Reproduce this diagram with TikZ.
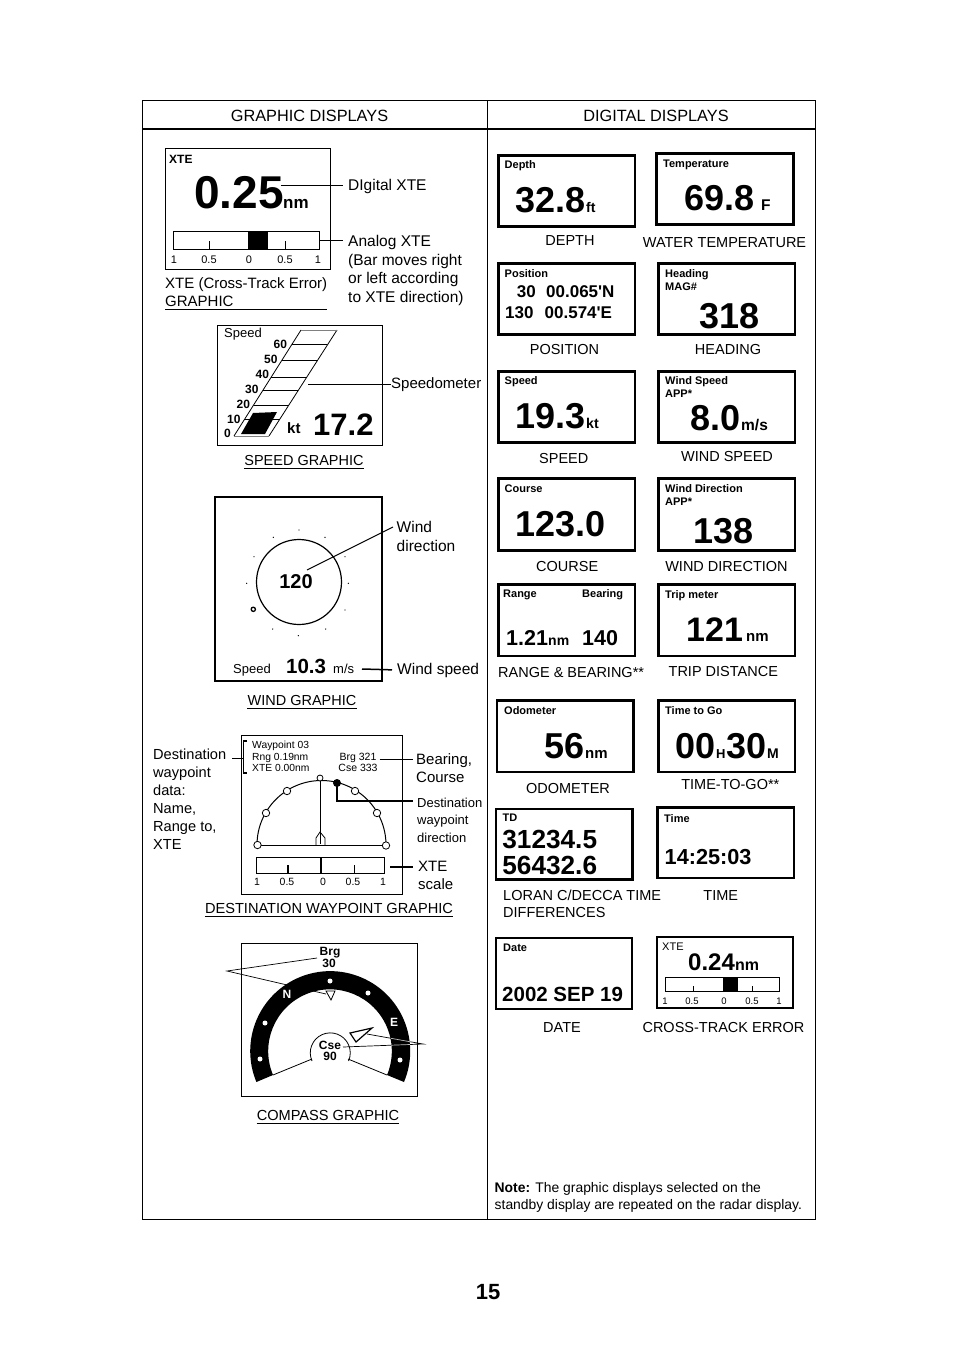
\documentclass[tikz,border=0pt]{standalone}
\usepackage{fontspec}
\setmainfont{Liberation Sans}
\newfontfamily\posfont{Liberation Sans}
\usetikzlibrary{positioning, fit}
\begin{document}
\begin{tikzpicture}[
    x=1pt, y=1pt, yscale=-1,
    framebox/.style={draw, line width=1pt, inner sep=0pt},
    thinbox/.style={draw, line width=1pt, inner sep=0pt},
    dispbox/.style={draw, line width=2.5pt, inner sep=0pt},
    txt/.style={inner sep=0pt, anchor=base west, font=\fontsize{#1}{#1}\selectfont},
    btxt/.style={inner sep=0pt, anchor=base west, font=\fontsize{#1}{#1}\selectfont\bfseries},
    ctxt/.style={inner sep=0pt, anchor=base, font=\fontsize{#1}{#1}\selectfont},
    cbtxt/.style={inner sep=0pt, anchor=base, font=\fontsize{#1}{#1}\selectfont\bfseries},
    wrap/.style={inner sep=0pt, anchor=north west, align=left, font=\fontsize{15}{18.3}\selectfont},
    leader/.style={line width=1pt},
    hleader/.style={line width=1.5pt},
    rulerline/.style={line width=1.2pt}
]
\useasboundingbox (0,0) rectangle (954,1351);

% outer table
\node[framebox, fit={(142.7,100.5) (815.5,1219.3)}] (frame) {};
\draw[line width=1.5pt] (frame.west |- 0,129) -- (frame.east |- 0,129);
\draw[line width=1pt] (487.5,100.5) -- (487.5,1219.3);
\node[ctxt=16.3] (headleft) at (309.5,121.5) {GRAPHIC DISPLAYS};
\node[ctxt=16.3] (headright) at (656,121.5) {DIGITAL DISPLAYS};

% XTE graphic
\node[thinbox, fit={(165,149) (330,269)}] (xtepanel) {};
\node[btxt=12] (xtetitle) at (169,164) {XTE};
\node[btxt=46] (xteval) at (194,208) {0.25};
\node[btxt=17] (xteunit) at (283,208) {nm};
\node[thinbox, fit={(173,231) (319,249)}] (xtebar) {};
\fill (248,231) rectangle (268,249);
\draw[line width=1pt] (209,241) -- (209,249);
\draw[line width=1pt] (285,241) -- (285,249);
\node[ctxt=11] (xtea) at (174,263) {1};
\node[ctxt=11] (xteb) at (209,263) {0.5};
\node[ctxt=11] (xtec) at (249,263) {0};
\node[ctxt=11] (xted) at (285,263) {0.5};
\node[ctxt=11] (xtee) at (318,263) {1};
\node[txt=15.5] (dxte) at (348,190) {DIgital XTE};
\node[wrap, font=\fontsize{15.5}{18.7}\selectfont] (axte) at (348,235) {Analog XTE\\(Bar moves right\\or left according\\to XTE direction)};
\node[wrap] (xtecap) at (165,277) {XTE (Cross-Track Error)\\GRAPHIC};
\coordinate (axteend) at (343,240);
\draw[leader, shorten <=-3pt, shorten >=5pt] (xteval.east |- dxte.west) -- (dxte.west);
\draw[leader] (xtebar.east) -- (axteend);
\draw[rulerline] ([yshift=3pt]xtecap.south west) -- ([yshift=3pt]xtecap.south east);

% speed graphic
\node[thinbox, fit={(217,325) (382,445)}] (speedpanel) {};
\node[txt=13] (speedtitle) at (224,337) {Speed};
\fill (253,413) -- (277,412) -- (265,434) -- (241,434) -- cycle;
\draw[line width=0.8pt] (234,436) -- (301,330);
\draw[line width=0.8pt] (269,436) -- (337,330);
\draw[line width=1pt, gray] (301,330) -- (337,330);
\draw[line width=1pt, gray] (234,436) -- (269,436);
\draw[line width=0.8pt] (292.1,344) -- +(35,0);
\draw[line width=0.8pt] (282,360) -- +(35,0);
\draw[line width=0.8pt] (271.3,377) -- +(35,0);
\draw[line width=0.8pt] (263.1,390) -- +(35,0);
\draw[line width=0.8pt] (253.6,405) -- +(35,0);
\draw[line width=0.8pt] (244.7,419) -- +(35,0);
\node[btxt=12] (spa) at (273.5,348) {60};
\node[btxt=12] (spb) at (264,363.5) {50};
\node[btxt=12] (spc) at (255.5,378) {40};
\node[btxt=12] (spd) at (245,393) {30};
\node[btxt=12] (spe) at (236.5,408) {20};
\node[btxt=12] (spf) at (227,423) {10};
\node[btxt=12] (spg) at (224,437) {0};
\node[btxt=15] (speedunit) at (287,433) {kt};
\node[btxt=31] (speedval) at (313,435) {17.2};
\node[txt=15] (speedo) at (391,388) {Speedometer};
\coordinate (speedoend) at (308,383);
\draw[leader] (speedoend |- speedo.west) -- (speedo.west);
\node[ctxt=14.5] (speedcap) at (304,465) {SPEED GRAPHIC};
\draw[rulerline] ([yshift=3pt]speedcap.south west) -- ([yshift=3pt]speedcap.south east);

% wind graphic
\node[framebox, line width=2pt, fit={(215,497) (382,681)}] (windpanel) {};
\draw[line width=1.2pt] (299,582) circle (42.5);
\fill (273.3,537.3) circle (0.7) (325,537.3) circle (0.7) (254,556.7) circle (0.7)
    (345,556.7) circle (0.7) (246.7,583.3) circle (0.7) (348.3,583.3) circle (0.7)
    (345,610) circle (0.7) (272.7,629) circle (0.7) (325.7,629) circle (0.7)
    (299,530) circle (0.7) (298.3,635.7) circle (0.7);
\draw[line width=1.3pt] (253.3,609.3) circle (2.1);
\node[cbtxt=20] (windval) at (296,588) {120};
\node[wrap, font=\fontsize{15.5}{19}\selectfont] (winddir) at (396.5,521) {Wind\\direction};
\coordinate (winddirend) at (307,570);
\coordinate (winddirtip) at (393,527);
\draw[leader] (winddirend) -- (winddirtip);
\node[txt=13] (windspd) at (233,673) {Speed};
\node[btxt=20.5] (windnum) at (286,673) {10.3};
\node[txt=13] (windunit) at (333,673) {m/s};
\node[txt=15.5] (windlab) at (397,674) {Wind speed};
\coordinate (windstart) at (362,669);
\draw[hleader, shorten >=5pt] (windstart) -- (windlab.west);
\node[ctxt=14.5] (windcap) at (302,705) {WIND GRAPHIC};
\draw[rulerline] ([yshift=3pt]windcap.south west) -- ([yshift=3pt]windcap.south east);

% destination waypoint graphic
\node[thinbox, fit={(241,735) (402,894)}] (wptpanel) {};
\draw[line width=1.2pt] (247,741) -- (243.5,741) -- (243.5,773) -- (247,773);
\node[txt=10.3] (wpta) at (252,748.5) {Waypoint 03};
\node[txt=10.3] (wptb) at (252,760) {Rng 0.19nm};
\node[txt=10.3] (wptc) at (252,771.5) {XTE 0.00nm};
\node[ctxt=10.5] (wptd) at (358,760) {Brg 321};
\node[ctxt=10.5] (wpte) at (358,771.5) {Cse 333};
\node[wrap, font=\fontsize{14.6}{18}\selectfont] (wptdata) at (153,749) {Destination\\waypoint\\data:\\Name,\\Range to,\\XTE};
\coordinate (brackend) at (243.5,758);
\draw[leader] (232,758) -- (brackend);
\node[wrap, font=\fontsize{15}{18}\selectfont] (wptbrg) at (416,753) {Bearing,\\Course};
\coordinate (brgend) at (413,759);
\draw[leader] (wptd.east |- brgend) ++(3,0) -- (brgend);
\node[wrap, font=\fontsize{13}{17.5}\selectfont] (wptdir) at (417,797.5) {Destination\\waypoint\\direction};
\draw[line width=1pt] (257,845) arc[start angle=180, end angle=360, radius=64.5];
\draw[line width=1pt] (257,845) -- (386,845);
\draw[line width=0.8pt] (320,778) -- (320,844);
\draw[line width=0.8pt] (316,845) -- (316,838) -- (320,832) -- (325,838) -- (325,845);
\draw[line width=0.8pt, fill=white] (320,778) circle (3);
\draw[line width=0.8pt, fill=white] (287,791) circle (3.7);
\draw[line width=0.8pt, fill=white] (266,813) circle (3.7);
\draw[line width=0.8pt, fill=white] (355,791) circle (3.7);
\draw[line width=0.8pt, fill=white] (377,813) circle (3.7);
\draw[line width=0.8pt, fill=white] (257.5,845) circle (3.7);
\draw[line width=0.8pt, fill=white] (386,845.5) circle (3.7);
\fill (337,783) coordinate (wptdot) circle (4);
\coordinate (wptdirend) at (413,801);
\draw[hleader] (wptdot) |- (wptdirend);
\node[thinbox, fit={(256,857) (384,873)}] (wptbar) {};
\draw[line width=1.3pt] (288,865) -- (288,873);
\draw[line width=1.8pt] (321,858) -- (321,873);
\draw[line width=0.8pt] (354,865) -- (354,873);
\node[ctxt=10.5] (wbara) at (257,885) {1};
\node[ctxt=10.5] (wbarb) at (287,885) {0.5};
\node[ctxt=10.5] (wbarc) at (323,885) {0};
\node[ctxt=10.5] (wbard) at (353,885) {0.5};
\node[ctxt=10.5] (wbare) at (383,885) {1};
\node[wrap, font=\fontsize{15}{18}\selectfont] (wptscale) at (418,860.5) {XTE\\scale};
\coordinate (scalestart) at (390,867);
\coordinate (scaleend) at (413,867);
\draw[hleader] (scalestart) -- (scaleend);
\node[ctxt=14.6] (wptcap) at (329,913) {DESTINATION WAYPOINT GRAPHIC};
\draw[rulerline] ([yshift=3pt]wptcap.south west) -- ([yshift=3pt]wptcap.south east);

% compass graphic
\node[thinbox, fit={(241,943) (417,1096)}] (comppanel) {};
\fill (404,1082) arc[start angle=22.7, end angle=-202.7, radius=80] -- (273,1075)
    arc[start angle=-202.7, end angle=22.7, radius=61.8] -- cycle;
\fill[white] (330,981) circle (2.5) (368,993) circle (2.5) (265,1023) circle (2.5)
    (260,1059) circle (2.5) (400,1060) circle (2.5);
\node[cbtxt=12, white] (compn) at (287,998.5) {N};
\node[cbtxt=12, white] (compe) at (394,1026.5) {E};
\draw[line width=0.8pt] (273,1075) -- (312,1059);
\draw[line width=0.8pt] (387,1075) -- (348,1059);
\draw[line width=0.8pt] (312,1061) arc[start angle=-204, end angle=24, radius=20];
\node[cbtxt=12] (compbrg) at (330,955) {Brg};
\node[cbtxt=12] (compbrgv) at (329,967) {30};
\node[cbtxt=12] (compcse) at (330,1049) {Cse};
\node[cbtxt=12] (compcsev) at (330,1060) {90};
\draw[line width=0.8pt] (326,991) -- (335,991) -- (331,1000) -- cycle;
\draw[line width=1.2pt] (350,1033) -- (372,1028) -- (356,1042) -- cycle;
\coordinate (forkl) at (227,971);
\coordinate (forkr) at (423,1044);
\coordinate (tipa) at (317,958);
\coordinate (tipb) at (326,994);
\coordinate (tipc) at (367,1034);
\coordinate (tipd) at (343,1047);
\draw[line width=0.7pt] (tipa) -- (forkl) -- (tipb);
\draw[line width=0.7pt] (tipc) -- (forkr) -- (tipd);
\draw[line width=0.7pt, lightgray] (411,1041.9) -- (391,1038.3);
\draw[line width=0.7pt, lightgray] (410,1044.5) -- (391,1045.2);
\node[ctxt=14.6] (compcap) at (328,1120) {COMPASS GRAPHIC};
\draw[rulerline] ([yshift=3pt]compcap.south west) -- ([yshift=3pt]compcap.south east);

% digital displays, left and right column
\node[dispbox, fit={(498.5,155.5) (634.8,226.5)}] (depth) {};
\node[btxt=11] (deptht) at (504.5,168.5) {Depth};
\node[btxt=36] (depthv) at (515,212.5) {32.8};
\node[btxt=14] (depthu) at (586,212) {ft};
\node[ctxt=14.5] (depthc) at (570,245) {DEPTH};

\node[dispbox, fit={(656.5,153.5) (793.5,224.5)}] (temp) {};
\node[btxt=11] (tempt) at (663,167.5) {Temperature};
\node[btxt=36] (tempv) at (684,211) {69.8};
\node[btxt=15.5] (tempu) at (761,210.7) {F};
\node[ctxt=14.5] (tempc) at (724.5,247) {WATER TEMPERATURE};

\node[dispbox, fit={(498.5,263.5) (634.8,334.5)}] (pos) {};
\node[btxt=11] (post) at (504.5,277.5) {Position};
\node[btxt=17] (posa) at (516.7,297.7) {30};
\node[btxt=17] (posb) at (546,297.7) {{\posfont\bfseries 00.065'N}};
\node[btxt=17] (posc) at (505,318) {130};
\node[btxt=17] (posd) at (544.5,318) {{\posfont\bfseries 00.574'E}};
\node[ctxt=14.5] (posn) at (564.5,354) {POSITION};

\node[dispbox, fit={(658.5,263.5) (794.8,334.5)}] (head) {};
\node[btxt=11] (headt) at (665,277.5) {Heading};
\node[btxt=11] (headm) at (665,290) {MAG\#};
\node[btxt=36] (headv) at (699,328.5) {318};
\node[ctxt=14.5] (headc) at (728,354) {HEADING};

\node[dispbox, fit={(498.5,371.5) (634.8,442.5)}] (spd) {};
\node[btxt=11] (spdt) at (504.5,384) {Speed};
\node[btxt=36] (spdv) at (515,428.3) {19.3};
\node[btxt=14.2] (spdu) at (586,428.3) {kt};
\node[ctxt=14.5] (spdc) at (563.8,463) {SPEED};

\node[dispbox, fit={(658.5,371.5) (794.8,442.5)}] (wspd) {};
\node[btxt=11] (wspdt) at (665,384) {Wind Speed};
\node[btxt=11] (wspda) at (665,397.3) {APP*};
\node[btxt=36] (wspdv) at (690,430.7) {8.0};
\node[btxt=15.5] (wspdu) at (741,430.7) {m/s};
\node[ctxt=14.5] (wspdc) at (727,461) {WIND SPEED};

\node[dispbox, fit={(498.5,478.5) (634.8,550.5)}] (course) {};
\node[btxt=11] (courset) at (504.5,492) {Course};
\node[btxt=36] (coursev) at (515,536.5) {123.0};
\node[ctxt=14.5] (coursec) at (567.2,571) {COURSE};

\node[dispbox, fit={(658.5,478.5) (794.8,550.5)}] (wdir) {};
\node[btxt=11] (wdirt) at (665,492) {Wind Direction};
\node[btxt=11] (wdira) at (665,505) {APP*};
\node[btxt=36] (wdirv) at (693,543.5) {138};
\node[ctxt=14.5] (wdirc) at (726.5,571) {WIND DIRECTION};

\node[dispbox, fit={(498.5,584.5) (634.8,656)}] (range) {};
\node[btxt=11] (ranget) at (503,597) {Range};
\node[btxt=11] (rangeb) at (582,597) {Bearing};
\node[btxt=21.5] (rangev) at (506,645) {1.21};
\node[btxt=14] (rangeu) at (548,645) {nm};
\node[btxt=21.5] (rangew) at (582,645) {140};
\node[txt=14.5] (rangec) at (498,677) {RANGE \& BEARING**};

\node[dispbox, fit={(658.5,584.5) (794.8,656)}] (trip) {};
\node[btxt=11] (tript) at (665,598.5) {Trip meter};
\node[btxt=34] (tripv) at (686,641.7) {121};
\node[btxt=15] (tripu) at (746,641.7) {nm};
\node[ctxt=14.5] (tripc) at (723.3,676) {TRIP DISTANCE};

\node[dispbox, fit={(497.2,700.5) (633.5,772)}] (odo) {};
\node[btxt=11] (odot) at (504,714) {Odometer};
\node[btxt=36] (odov) at (544.5,758.3) {56};
\node[btxt=15] (odou) at (585,758.3) {nm};
\node[ctxt=14.5] (odoc) at (568,793.3) {ODOMETER};

\node[dispbox, fit={(658.5,700.5) (794.8,772)}] (ttg) {};
\node[btxt=11] (ttgt) at (665,714) {Time to Go};
\node[btxt=36] (ttgh) at (675,758.3) {00};
\node[btxt=13] (ttgu) at (716,758.3) {H};
\node[btxt=36] (ttgm) at (726,758.3) {30};
\node[btxt=14] (ttgv) at (767,758.3) {M};
\node[ctxt=14.5] (ttgc) at (730.3,789.5) {TIME-TO-GO**};

\node[dispbox, fit={(496.2,809) (632.5,879.5)}] (td) {};
\node[btxt=11] (tdt) at (502.5,821.5) {TD};
\node[btxt=26.2] (tda) at (502.2,848.3) {31234.5};
\node[btxt=26.2] (tdb) at (502.2,874.3) {56432.6};
\node[wrap, font=\fontsize{14.5}{17.3}\selectfont] (tdc) at (503,889.5) {LORAN C/DECCA TIME\\DIFFERENCES};

\node[dispbox, fit={(657.5,807.5) (793.8,878)}] (time) {};
\node[btxt=11] (timet) at (664,822) {Time};
\node[btxt=21.7] (timev) at (664.5,864) {14:25:03};
\node[ctxt=14.5] (timec) at (720.8,900.2) {TIME};

\node[dispbox, fit={(496.2,938) (632,1008.8)}] (date) {};
\node[btxt=11] (datet) at (503,951) {Date};
\node[btxt=20.5] (datev) at (502,1001) {2002 SEP 19};
\node[ctxt=14.5] (datec) at (562,1032) {DATE};

\node[dispbox, fit={(657,937) (792.8,1007.8)}] (xte) {};
\node[txt=11] (xtet) at (662,950) {XTE};
\node[btxt=24] (xtev) at (688,970) {0.24};
\node[btxt=16] (xteu) at (735,970) {nm};
\node[thinbox, fit={(665,977) (779,991)}] (xtescale) {};
\fill (723,977) rectangle (738,991);
\draw[line width=0.8pt] (693,986) -- (693,991);
\draw[line width=0.8pt] (752,986) -- (752,991);
\node[ctxt=9.5] (xtsa) at (665,1004) {1};
\node[ctxt=9.5] (xtsb) at (692,1004) {0.5};
\node[ctxt=9.5] (xtsc) at (724,1004) {0};
\node[ctxt=9.5] (xtsd) at (752,1004) {0.5};
\node[ctxt=9.5] (xtse) at (779,1004) {1};
\node[ctxt=14.5] (xtec2) at (723.5,1032) {CROSS-TRACK ERROR};

\node[wrap, font=\fontsize{13.9}{17.5}\selectfont] (note) at (494.5,1182) {\textbf{Note:} The graphic displays selected on the\\standby display are repeated on the radar display.};
\node[cbtxt=22] (pageno) at (488,1299) {15};
\end{tikzpicture}
\end{document}
